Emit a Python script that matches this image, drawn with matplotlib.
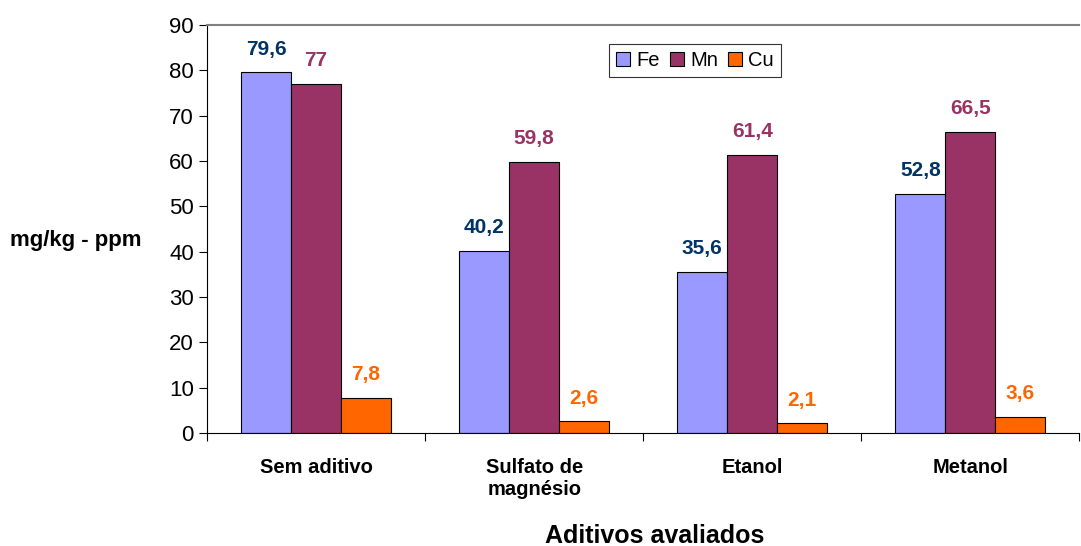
import numpy as np
import matplotlib.pyplot as plt

plt.rcParams['font.family'] = ['Liberation Sans', 'DejaVu Sans']

# teores de metais por aditivo
categorias = ['Sem aditivo', 'Sulfato de\nmagnésio', 'Etanol', 'Metanol']
fe = [79.6, 40.2, 35.6, 52.8]
mn = [77.0, 59.8, 61.4, 66.5]
cu = [7.8, 2.6, 2.1, 3.6]
series = ['Fe', 'Mn', 'Cu']

cores_barra = ['#9999FF', '#993366', '#FF6600']
cores_rotulo = ['#003366', '#993366', '#FF6600']


def fmt(v):
    s = f'{v:.1f}'.replace('.', ',')
    return s[:-2] if s.endswith(',0') else s


fig = plt.figure(figsize=(10.81, 5.46), dpi=100)
ax = fig.add_axes([0.1915, 0.207, 0.807, 0.747])

x = np.arange(len(categorias))
w = 0.229
for k, (vals, nome) in enumerate(zip([fe, mn, cu], series)):
    pos = x + (k - 1) * w
    ax.bar(pos, vals, width=w, color=cores_barra[k], edgecolor='black',
           linewidth=0.8, label=nome)
    for p, v in zip(pos, vals):
        ax.text(p, v + 3.0, fmt(v), ha='center', va='bottom',
                fontsize=15, fontweight='bold', color=cores_rotulo[k])

ax.set_xlim(-0.5, len(categorias) - 0.5)
ax.set_ylim(0, 90)
ax.set_yticks(range(0, 91, 10))
ax.tick_params(axis='y', labelsize=16, direction='out', length=6, width=0.8)

# marcas do eixo x nos limites entre categorias
ax.set_xticks(np.arange(-0.5, len(categorias), 1.0))
ax.set_xticklabels([])
ax.tick_params(axis='x', direction='out', length=6, width=0.8)
ax.set_xticks(x, minor=True)
ax.set_xticklabels(categorias, minor=True, fontsize=14.5, fontweight='bold')
ax.tick_params(axis='x', which='minor', length=0, pad=18)

ax.spines['right'].set_visible(False)
ax.spines['top'].set_color('#808080')
ax.spines['top'].set_linewidth(1.5)

ax.set_xlabel('Aditivos avaliados', fontsize=18, fontweight='bold')
ax.xaxis.set_label_coords(0.513, -0.222)
fig.text(0.009, 0.56, 'mg/kg - ppm', fontsize=16, fontweight='bold',
         ha='left', va='center')

leg = ax.legend(loc='upper left', bbox_to_anchor=(0.4495, 0.978), ncol=3,
                fontsize=14.5, frameon=True, fancybox=False, handlelength=0.7,
                handleheight=0.7, handletextpad=0.3, columnspacing=0.5,
                borderpad=0.35)
leg.get_frame().set_edgecolor('black')
leg.get_frame().set_linewidth(0.8)

fig.savefig('out.png', dpi=100)
